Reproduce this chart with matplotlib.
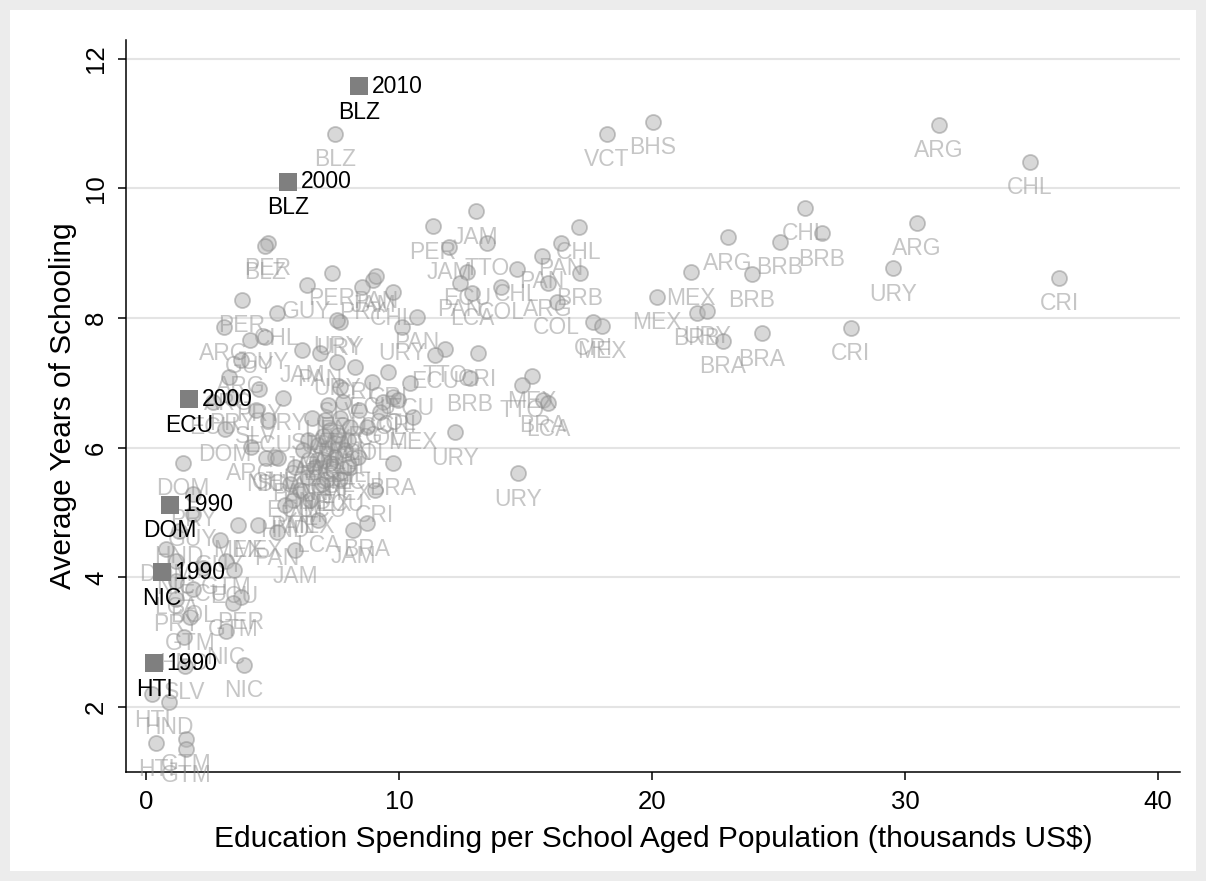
import matplotlib
matplotlib.use("Agg")
import matplotlib.pyplot as plt
from matplotlib.patches import Rectangle

plt.rcParams['font.family'] = ['Liberation Sans', 'DejaVu Sans']

# Country-year observations: education spending per school-aged person
# (thousands US$) and average years of schooling.
codes = [
    'VCT', 'BHS', 'ARG', 'CHL', 'CHL', 'BRB', 'BRB', 'ARG', 'ARG', 'URY',
    'CRI', 'MEX', 'BRB', 'MEX', 'BRB', 'URY', 'BRA', 'BRA', 'CRI', 'CRI',
    'MEX', 'BRB', 'CHL', 'PAN', 'PAN', 'ARG', 'COL', 'JAM', 'PER', 'TTO',
    'JAM', 'CHL', 'ECU', 'PAN', 'COL', 'LCA', 'TTO', 'ECU', 'CRI', 'BRB',
    'MEX', 'TTO', 'MEX', 'URY', 'BRA', 'LCA', 'URY', 'COL',
    'BLZ', 'PER', 'BLZ', 'PER', 'GUY', 'PER', 'JAM', 'PAN', 'PRY', 'CHL',
    'CHL', 'URY', 'URY', 'URY', 'PAN', 'ARG', 'ARG', 'GUY', 'JAM', 'PAN',
    'URY', 'CRI', 'CRI', 'ECU', 'ECU', 'SLV', 'URY', 'ECU', 'COL', 'CRI',
    'ARG', 'COL', 'SLV', 'ARG', 'JAM', 'PAN', 'COL', 'JAM', 'ARG', 'CRI',
    'ECU', 'ARG', 'COL', 'ECU', 'BRA', 'CRI', 'ARG', 'CHL', 'MEX', 'CRI',
    'MEX', 'ECU', 'HND', 'PAN', 'ARG', 'NIC', 'SLV', 'DOM', 'DOM', 'ECU',
    'PRY', 'URY', 'PRY', 'ECU', 'SLV', 'ARG', 'GUY', 'MEX', 'MEX', 'PAN',
    'LCA', 'JAM', 'BRA', 'JAM', 'PAN', 'GUY', 'PRY', 'GUY', 'HND', 'DOM',
    'NIC', 'GTM', 'ECU', 'ECU', 'LCA', 'BOL', 'PRY', 'PER', 'GTM', 'GTM',
    'HND', 'NIC', 'NIC', 'SLV', 'HTI', 'HND', 'GTM', 'HTI', 'GTM',
    'ARG', 'ARG', 'COL', 'CHL', 'CRI', 'CRI', 'ECU', 'ECU', 'JAM', 'HND',
    'MEX',
]
spend = [
    18.22, 20.04, 31.34, 34.94, 26.05, 26.72, 25.06, 23.00, 30.47, 29.53,
    36.09, 21.54, 23.95, 20.20, 21.78, 22.17, 22.80, 24.35, 27.85, 17.67,
    18.02, 17.15, 17.11, 16.40, 15.65, 15.89, 16.24, 13.04, 11.34, 13.48,
    11.98, 14.66, 12.69, 12.41, 14.03, 12.89, 11.82, 11.42, 13.12, 12.81,
    15.26, 14.86, 10.55, 12.21, 15.69, 15.89, 14.70, 9.76,
    7.47, 4.82, 4.70, 3.79, 6.36, 7.35, 8.97, 9.09, 8.54, 9.76,
    5.18, 7.67, 7.55, 10.12, 10.71, 3.08, 3.75, 4.70, 6.17, 6.88,
    7.55, 8.26, 9.57, 10.43, 8.93, 7.67, 7.19, 7.79, 9.37, 9.96,
    8.42, 9.25, 6.56, 7.67, 7.08, 8.06, 8.74, 6.40, 6.80, 6.21,
    7.15, 7.47, 7.98, 8.38, 9.76, 7.47, 6.76, 5.10, 7.94, 9.05,
    7.15, 5.69, 6.36, 5.89, 4.15, 4.74, 5.22, 1.46, 3.12, 2.65,
    4.47, 5.42, 3.40, 4.82, 4.35, 3.28, 4.11, 3.64, 4.43, 5.18,
    6.80, 8.18, 8.74, 5.89, 5.81, 2.92, 1.86, 1.86, 1.30, 0.79,
    1.19, 3.16, 2.25, 3.48, 1.19, 1.86, 1.19, 3.75, 3.44, 1.74,
    1.50, 3.16, 3.87, 1.54, 0.24, 0.91, 1.58, 0.40, 1.58,
    7.27, 7.59, 7.00, 7.87, 7.27, 6.68, 6.96, 7.67, 6.09, 5.49,
    6.48,
]
school = [
    10.84, 11.03, 10.98, 10.41, 9.70, 9.31, 9.18, 9.25, 9.47, 8.77,
    8.62, 8.71, 8.68, 8.33, 8.08, 8.11, 7.65, 7.77, 7.85, 7.94,
    7.88, 8.70, 9.41, 9.16, 8.96, 8.54, 8.25, 9.65, 9.42, 9.16,
    9.10, 8.76, 8.71, 8.54, 8.48, 8.39, 7.52, 7.43, 7.46, 7.07,
    7.11, 6.97, 6.48, 6.24, 6.74, 6.69, 5.61, 6.78,
    10.84, 9.16, 9.11, 8.28, 8.51, 8.70, 8.59, 8.65, 8.48, 8.40,
    8.08, 7.94, 7.97, 7.86, 8.02, 7.86, 7.35, 7.71, 7.51, 7.46,
    7.32, 7.25, 7.17, 7.00, 7.02, 6.94, 6.66, 6.71, 6.71, 6.74,
    6.58, 6.55, 6.46, 6.46, 6.43, 6.32, 6.32, 6.12, 6.04, 5.97,
    6.00, 6.07, 6.12, 5.86, 5.77, 5.86, 5.81, 5.86, 5.70, 5.35,
    5.52, 5.44, 5.55, 5.70, 6.01, 5.84, 5.84, 5.77, 6.29, 6.71,
    6.91, 6.77, 6.77, 6.43, 6.58, 7.09, 7.66, 4.81, 4.81, 4.70,
    4.89, 4.73, 4.84, 4.42, 5.19, 4.58, 5.29, 4.98, 4.72, 4.44,
    4.25, 4.25, 4.14, 4.11, 3.94, 3.82, 3.67, 3.70, 3.60, 3.39,
    3.08, 3.17, 2.65, 2.63, 2.20, 2.08, 1.51, 1.44, 1.35,
    6.27, 6.20, 6.18, 5.97, 5.77, 5.70, 5.44, 5.52, 5.35, 5.12,
    5.19,
]

# Highlighted observations
hl_codes = ['BLZ', 'BLZ', 'ECU', 'DOM', 'NIC', 'HTI']
hl_years = ['2010', '2000', '2000', '1990', '1990', '1990']
hl_spend = [8.42, 5.61, 1.70, 0.95, 0.63, 0.32]
hl_school = [11.58, 10.10, 6.75, 5.12, 4.08, 2.68]

x_ticks = [0, 10, 20, 30, 40]
y_ticks = [2, 4, 6, 8, 10, 12]
x_title = 'Education Spending per School Aged Population (thousands US$)'
y_title = 'Average Years of Schooling'

W, H = 1206, 881
fig = plt.figure(figsize=(W / 100, H / 100), dpi=100)
fig.patch.set_facecolor('#ececec')
fig.patches.append(Rectangle((10 / W, 10 / H), (W - 20) / W, (H - 20) / H,
                             transform=fig.transFigure, facecolor='white',
                             edgecolor='none', zorder=-1))

ax = fig.add_axes([126 / W, 1 - 772 / H, (1180 - 126) / W, (772 - 40) / H])
ax.set_facecolor('white')
ax.set_xlim(-0.79, 40.87)
ax.set_ylim(1.0, 12.29)

for side in ('top', 'right'):
    ax.spines[side].set_visible(False)
for side in ('left', 'bottom'):
    ax.spines[side].set_linewidth(1.1)
    ax.spines[side].set_color('black')

ax.set_xticks(x_ticks)
ax.set_yticks(y_ticks)
ax.yaxis.grid(True, color='#e4e4e4', linewidth=1.5)
ax.set_axisbelow(True)
ax.tick_params(axis='both', length=6, width=1.1, labelsize=18.5, pad=7)
for lab in ax.get_yticklabels():
    lab.set_rotation(90)
    lab.set_va('center')

ax.set_xlabel(x_title, fontsize=21.5, labelpad=8)
ax.set_ylabel(y_title, fontsize=21.5, labelpad=5)

# Background observations: translucent grey circles with labels below
ax.scatter(spend, school, s=117, marker='o',
           facecolor=(0.70, 0.70, 0.70, 0.5),
           edgecolor=(0.55, 0.55, 0.55, 0.5), linewidth=1.3, zorder=2)
for c, xv, yv in zip(codes, spend, school):
    ax.annotate(c, (xv, yv), xytext=(0, -18.7), textcoords='offset points',
                ha='center', va='center', fontsize=16.5,
                color=(0.56, 0.56, 0.56, 0.5), zorder=3, annotation_clip=False)

# Highlighted observations: dark squares with year and country labels
ax.scatter(hl_spend, hl_school, s=170, marker='s', color='#7f7f7f',
           linewidth=0, zorder=4)
for c, yr, xv, yv in zip(hl_codes, hl_years, hl_spend, hl_school):
    ax.annotate(yr, (xv, yv), xytext=(9, 0), textcoords='offset points',
                ha='left', va='center', fontsize=16.5, color='black',
                zorder=5, annotation_clip=False)
    ax.annotate(c, (xv, yv), xytext=(0, -18.7), textcoords='offset points',
                ha='center', va='center', fontsize=16.5, color='black',
                zorder=5, annotation_clip=False)

fig.savefig('out.png', dpi=100, facecolor=fig.get_facecolor())
